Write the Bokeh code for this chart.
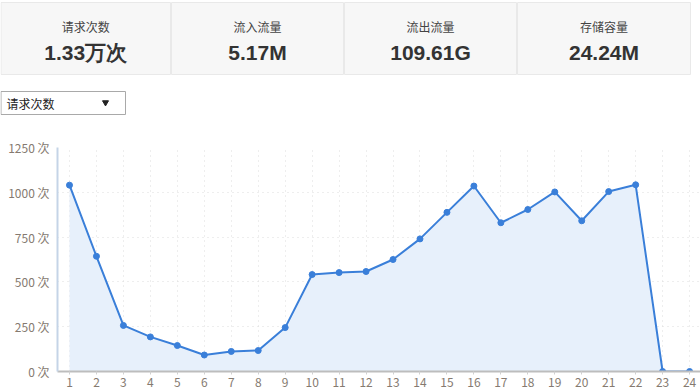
from bokeh.plotting import figure
from bokeh.layouts import column
from bokeh.models import Range1d, ColumnDataSource, CustomJSTickFormatter, FixedTicker, Label
from bokeh.embed import file_html
from bokeh.resources import INLINE

# ---- data ----
stat_titles = ["请求次数", "流入流量", "流出流量", "存储容量"]
stat_values = ["1.33万次", "5.17M", "109.61G", "24.24M"]
hours = list(range(1, 25))
requests = [1040, 643, 257, 193, 145, 92, 112, 117, 245, 541, 552, 558,
            625, 740, 888, 1035, 830, 904, 1002, 841, 1004, 1042, 0, 0]
y_ticks = [0, 250, 500, 750, 1000, 1250]
dropdown_label = "请求次数"

CJK = "Noto Sans CJK SC"
W = 700

def blank_fig(h, y0, y1):
    fig = figure(width=W, height=h, x_range=Range1d(0, 700), y_range=Range1d(y1, y0),
                 output_backend="svg", toolbar_location=None,
                 x_axis_location=None, y_axis_location=None,
                 min_border=0, min_border_left=0, min_border_right=0,
                 min_border_top=0, min_border_bottom=0, frame_align=False)
    fig.grid.visible = False
    fig.outline_line_color = None
    fig.background_fill_color = "white"
    fig.border_fill_color = "white"
    return fig

# ---- stats band ----
stats = blank_fig(76, 0, 76)
edges = [(0.5, 170), (171, 343), (344, 516), (517, 690)]
stats.quad(left=[e[0] for e in edges], right=[e[1] for e in edges],
           top=[2] * 4, bottom=[74] * 4, fill_color="#f7f7f7",
           line_color="#e9e9e9", line_width=1)
for (l, r), t, v in zip(edges, stat_titles, stat_values):
    cx = (l + r) / 2
    stats.add_layout(Label(x=cx, y=26, text=t, text_align="center", text_baseline="middle",
                           text_font=CJK, text_font_size="12px", text_color="#444444"))
    stats.add_layout(Label(x=cx, y=52, text=v, text_align="center", text_baseline="middle",
                           text_font="Liberation Sans", text_font_style="bold",
                           text_font_size="21px", text_color="#333333"))

# ---- dropdown ----
dd = blank_fig(42, 76, 118)
dd.quad(left=[0.5], right=[125], top=[91], bottom=[114], fill_color="white",
        line_color="#a9a9a9", line_width=1)
dd.add_layout(Label(x=6, y=102.5, text=dropdown_label, text_align="left", text_baseline="middle",
                    text_font=CJK, text_font_size="12px", text_color="#222222"))
dd.scatter(x=[105], y=[102], marker="inverted_triangle", size=6, fill_color="#222222",
           line_color="#222222")

# ---- chart ----
src = ColumnDataSource(dict(x=hours, y=requests, base=[0] * len(hours)))
p = figure(width=W, height=271, x_range=Range1d(0.555, 24.405), y_range=Range1d(0, 1250),
           output_backend="svg", toolbar_location=None, frame_align=False,
           min_border_left=57, min_border_right=0, min_border_top=29, min_border_bottom=18)
p.outline_line_color = None
p.background_fill_color = "white"
p.border_fill_color = "white"

p.varea(x="x", y1="base", y2="y", source=src, fill_color="#e7f0fb", fill_alpha=1)
p.line(x="x", y="y", source=src, line_color="#3a7fd9", line_width=2)
p.scatter(x="x", y="y", source=src, size=6, fill_color="#3a7fd9", line_color="#3a7fd9")

p.xaxis.ticker = FixedTicker(ticks=hours)
p.yaxis.ticker = FixedTicker(ticks=y_ticks)
p.yaxis.formatter = CustomJSTickFormatter(code="return tick + ' 次';")

p.xgrid.grid_line_color = "#dcdcdc"
p.xgrid.grid_line_dash = "1 4"
p.ygrid.grid_line_color = "#dcdcdc"
p.ygrid.grid_line_dash = "1 4"

p.yaxis.axis_line_color = "#c5d4e7"
p.yaxis.axis_line_width = 2
p.yaxis.major_tick_line_color = None
p.yaxis.major_tick_out = 0
p.yaxis.major_tick_in = 0
p.yaxis.minor_tick_line_color = None
p.yaxis.minor_tick_out = 0
p.yaxis.major_label_text_font = CJK
p.yaxis.major_label_text_font_size = "12px"
p.yaxis.major_label_text_color = "#857a70"
p.yaxis.major_label_standoff = 8

p.xaxis.axis_line_color = "#bdbdbd"
p.xaxis.axis_line_width = 2
p.xaxis.major_tick_line_color = "#d0d0d0"
p.xaxis.major_tick_out = 3
p.xaxis.major_tick_in = 0
p.xaxis.minor_tick_line_color = None
p.xaxis.major_label_text_font = CJK
p.xaxis.major_label_text_font_size = "12px"
p.xaxis.major_label_text_color = "#857a70"
p.xaxis.major_label_standoff = 3

layout = column(stats, dd, p, spacing=0)
open("out.html", "w").write(file_html(layout, INLINE))
